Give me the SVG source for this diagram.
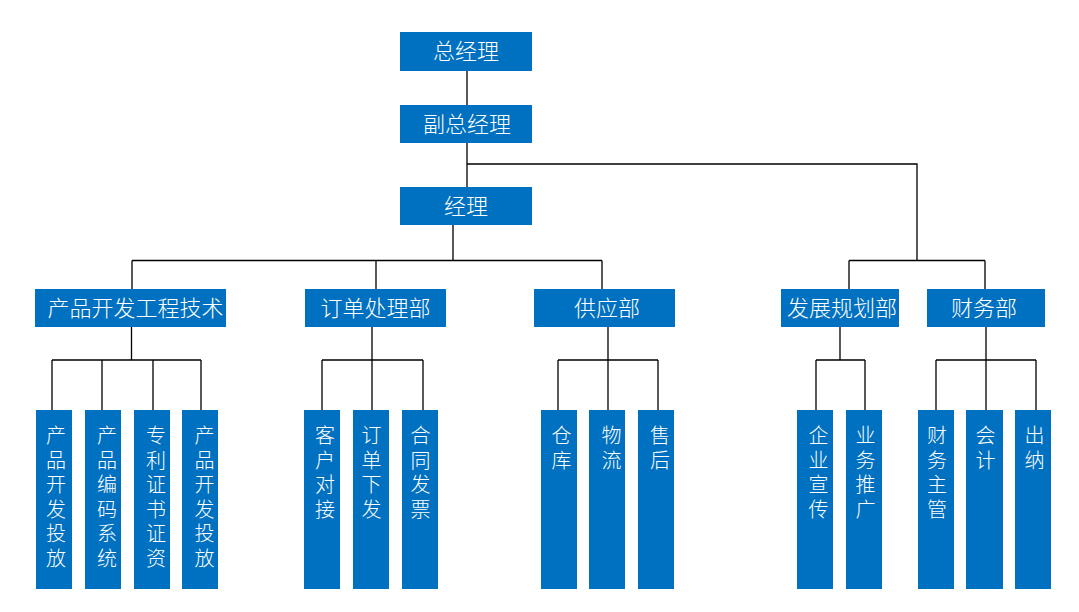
<svg xmlns="http://www.w3.org/2000/svg" width="1079" height="612" viewBox="0 0 1079 612">
<style>
.b{fill:#0070C0}
.t{fill:#fff;font-family:"Microsoft YaHei","Noto Sans CJK SC","Noto Sans",sans-serif;font-size:22px;font-weight:300;text-anchor:middle}
.v{fill:#fff;font-family:"Microsoft YaHei","Noto Sans CJK SC","Noto Sans",sans-serif;font-size:20px;font-weight:300;text-anchor:middle}
.c{stroke:#000;stroke-width:1.3;fill:none}
</style>
<rect width="1079" height="612" fill="#fff"/>
<g id="connectors" class="c">
<path d="M467 71V105M467 143V187M467 164H917V260.5"/>
<path d="M453 225V260.5M132 260.5H602M132 260.5V289M376 260.5V289M602 260.5V289"/>
<path d="M849 260.5H985M849 260.5V289M985 260.5V289"/>
<path d="M131.5 327V360M52 360H201M52 360V410M102 360V410M153 360V410M201 360V410"/>
<path d="M372 327V360M322 360H423M322 360V410M372 360V410M423 360V410"/>
<path d="M608 327V360M558 360H658M558 360V410M608 360V410M658 360V410"/>
<path d="M840 327V360M816 360H865M816 360V410M865 360V410"/>
<path d="M986 327V360M936 360H1036M936 360V410M986 360V410M1036 360V410"/>
</g>
<g id="n-zjl"><rect class="b" x="400" y="32" width="132" height="39"/><text class="t" x="466" y="59">总经理</text></g>
<g id="n-fzjl"><rect class="b" x="400" y="105" width="132" height="38"/><text class="t" x="467" y="132">副总经理</text></g>
<g id="n-jl"><rect class="b" x="400" y="187" width="132" height="38"/><text class="t" x="466" y="214">经理</text></g>
<g id="n-cpkf"><rect class="b" x="35" y="289" width="191" height="38"/><text class="t" x="135.5" y="316">产品开发工程技术</text></g>
<g id="n-ddcl"><rect class="b" x="305" y="289" width="141" height="38"/><text class="t" x="375.5" y="316">订单处理部</text></g>
<g id="n-gyb"><rect class="b" x="534" y="289" width="141" height="38"/><text class="t" x="607" y="316">供应部</text></g>
<g id="n-fzgh"><rect class="b" x="781" y="289" width="118" height="38"/><text class="t" x="842" y="316">发展规划部</text></g>
<g id="n-cwb"><rect class="b" x="927" y="289" width="118" height="38"/><text class="t" x="984" y="316">财务部</text></g>
<g id="n-c1"><rect class="b" x="36" y="410" width="36" height="179"/><text class="v"><tspan x="56" y="443">产</tspan><tspan x="56" dy="24.5">品</tspan><tspan x="56" dy="24.5">开</tspan><tspan x="56" dy="24.5">发</tspan><tspan x="56" dy="24.5">投</tspan><tspan x="56" dy="24.5">放</tspan></text></g>
<g id="n-c2"><rect class="b" x="85" y="410" width="36" height="179"/><text class="v"><tspan x="107" y="443">产</tspan><tspan x="107" dy="24.5">品</tspan><tspan x="107" dy="24.5">编</tspan><tspan x="107" dy="24.5">码</tspan><tspan x="107" dy="24.5">系</tspan><tspan x="107" dy="24.5">统</tspan></text></g>
<g id="n-c3"><rect class="b" x="134" y="410" width="36" height="179"/><text class="v"><tspan x="156" y="443">专</tspan><tspan x="156" dy="24.5">利</tspan><tspan x="156" dy="24.5">证</tspan><tspan x="156" dy="24.5">书</tspan><tspan x="156" dy="24.5">证</tspan><tspan x="156" dy="24.5">资</tspan></text></g>
<g id="n-c4"><rect class="b" x="182" y="410" width="36" height="179"/><text class="v"><tspan x="204.5" y="443">产</tspan><tspan x="204.5" dy="24.5">品</tspan><tspan x="204.5" dy="24.5">开</tspan><tspan x="204.5" dy="24.5">发</tspan><tspan x="204.5" dy="24.5">投</tspan><tspan x="204.5" dy="24.5">放</tspan></text></g>
<g id="n-d1"><rect class="b" x="304" y="410" width="36" height="179"/><text class="v"><tspan x="325" y="443">客</tspan><tspan x="325" dy="24.5">户</tspan><tspan x="325" dy="24.5">对</tspan><tspan x="325" dy="24.5">接</tspan></text></g>
<g id="n-d2"><rect class="b" x="353" y="410" width="36" height="179"/><text class="v"><tspan x="371.5" y="443">订</tspan><tspan x="371.5" dy="24.5">单</tspan><tspan x="371.5" dy="24.5">下</tspan><tspan x="371.5" dy="24.5">发</tspan></text></g>
<g id="n-d3"><rect class="b" x="402" y="410" width="36" height="179"/><text class="v"><tspan x="420.5" y="443">合</tspan><tspan x="420.5" dy="24.5">同</tspan><tspan x="420.5" dy="24.5">发</tspan><tspan x="420.5" dy="24.5">票</tspan></text></g>
<g id="n-g1"><rect class="b" x="541" y="410" width="36" height="179"/><text class="v"><tspan x="561.5" y="443">仓</tspan><tspan x="561.5" dy="24.5">库</tspan></text></g>
<g id="n-g2"><rect class="b" x="589" y="410" width="36" height="179"/><text class="v"><tspan x="611.5" y="443">物</tspan><tspan x="611.5" dy="24.5">流</tspan></text></g>
<g id="n-g3"><rect class="b" x="638" y="410" width="36" height="179"/><text class="v"><tspan x="660" y="443">售</tspan><tspan x="660" dy="24.5">后</tspan></text></g>
<g id="n-f1"><rect class="b" x="797" y="410" width="36" height="179"/><text class="v"><tspan x="818.5" y="443">企</tspan><tspan x="818.5" dy="24.5">业</tspan><tspan x="818.5" dy="24.5">宣</tspan><tspan x="818.5" dy="24.5">传</tspan></text></g>
<g id="n-f2"><rect class="b" x="846" y="410" width="36" height="179"/><text class="v"><tspan x="865.5" y="443">业</tspan><tspan x="865.5" dy="24.5">务</tspan><tspan x="865.5" dy="24.5">推</tspan><tspan x="865.5" dy="24.5">广</tspan></text></g>
<g id="n-w1"><rect class="b" x="918" y="410" width="36" height="179"/><text class="v"><tspan x="937" y="443">财</tspan><tspan x="937" dy="24.5">务</tspan><tspan x="937" dy="24.5">主</tspan><tspan x="937" dy="24.5">管</tspan></text></g>
<g id="n-w2"><rect class="b" x="966" y="410" width="37" height="179"/><text class="v"><tspan x="985.5" y="443">会</tspan><tspan x="985.5" dy="24.5">计</tspan></text></g>
<g id="n-w3"><rect class="b" x="1015" y="410" width="36" height="179"/><text class="v"><tspan x="1034.5" y="443">出</tspan><tspan x="1034.5" dy="24.5">纳</tspan></text></g>
</svg>
